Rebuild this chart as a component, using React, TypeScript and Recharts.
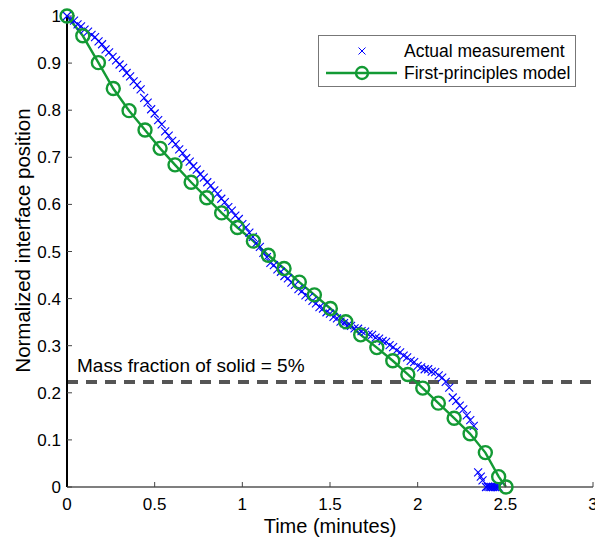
import React from 'react';
import {
  ComposedChart,
  XAxis,
  YAxis,
  Scatter,
  Line,
  ReferenceLine,
  Legend,
} from 'recharts';

const FONT = '"Liberation Sans", Arial, Helvetica, sans-serif';
const BLUE = '#0000ff';
const GREEN = '#139a34';

// measured interface position (minutes, normalized)
const measuredTime = [
  0, 0.02, 0.04, 0.06, 0.08, 0.1, 0.12, 0.14, 0.16, 0.18, 0.2, 0.22, 0.24, 0.26, 0.28, 0.3,
  0.32, 0.34, 0.36, 0.38, 0.4, 0.42, 0.44, 0.46, 0.48, 0.5, 0.52, 0.54, 0.56, 0.58, 0.6,
  0.62, 0.64, 0.66, 0.68, 0.7, 0.72, 0.74, 0.76, 0.78, 0.8, 0.82, 0.84, 0.86, 0.88, 0.9,
  0.92, 0.94, 0.96, 0.98, 1.0, 1.02, 1.04, 1.06, 1.08, 1.1, 1.12, 1.14, 1.16, 1.18, 1.2,
  1.22, 1.24, 1.26, 1.28, 1.3, 1.32, 1.34, 1.36, 1.38, 1.4, 1.42, 1.44, 1.46, 1.48, 1.5,
  1.52, 1.54, 1.56, 1.58, 1.6, 1.62, 1.64, 1.66, 1.68, 1.7, 1.72, 1.74, 1.76, 1.78, 1.8,
  1.82, 1.84, 1.86, 1.88, 1.9, 1.92, 1.94, 1.96, 1.98, 2.0, 2.02, 2.04, 2.06, 2.08, 2.1,
  2.12, 2.14, 2.16, 2.18, 2.2, 2.22, 2.24, 2.26, 2.28, 2.3, 2.32, 2.345, 2.36, 2.37, 2.39,
  2.4, 2.41, 2.42, 2.43, 2.44, 2.45, 2.46,
];
const measuredPosition = [
  1.0, 0.993, 0.99, 0.982, 0.978, 0.971, 0.967, 0.96, 0.955, 0.946, 0.94, 0.929, 0.923, 0.913, 0.906, 0.897,
  0.89, 0.879, 0.872, 0.861, 0.854, 0.844, 0.826, 0.816, 0.802, 0.793, 0.779, 0.77, 0.755, 0.746, 0.735,
  0.728, 0.717, 0.709, 0.698, 0.691, 0.681, 0.674, 0.664, 0.657, 0.647, 0.64, 0.63, 0.623, 0.612, 0.605,
  0.594, 0.587, 0.576, 0.569, 0.558, 0.551, 0.54, 0.531, 0.518, 0.51, 0.497, 0.488, 0.476, 0.471, 0.462,
  0.457, 0.448, 0.443, 0.434, 0.429, 0.42, 0.416, 0.407, 0.403, 0.395, 0.39, 0.382, 0.379, 0.371, 0.368,
  0.361, 0.358, 0.351, 0.348, 0.343, 0.342, 0.337, 0.336, 0.331, 0.33, 0.324, 0.323, 0.317, 0.315, 0.31,
  0.308, 0.301, 0.297, 0.29, 0.286, 0.279, 0.275, 0.268, 0.265, 0.257, 0.254, 0.25, 0.25, 0.245, 0.244,
  0.237, 0.232, 0.223, 0.211, 0.19, 0.183, 0.173, 0.165, 0.152, 0.142, 0.13, 0.031, 0.022, 0.014, 0.0,
  0.001, 0.0, 0.0, 0.0, 0.0, 0.0, 0.0,
];

// first-principles model output
const modelTime = [
  0, 0.09, 0.179, 0.264, 0.354, 0.445, 0.531, 0.616, 0.708, 0.797, 0.882, 0.972, 1.063, 1.148, 1.238,
  1.325, 1.411, 1.502, 1.59, 1.675, 1.767, 1.858, 1.944, 2.029, 2.118, 2.208, 2.299, 2.386, 2.462, 2.504,
];
const modelPosition = [
  1.0, 0.958, 0.901, 0.846, 0.799, 0.758, 0.719, 0.684, 0.647, 0.614, 0.582, 0.551, 0.522, 0.492, 0.464,
  0.435, 0.408, 0.379, 0.351, 0.323, 0.296, 0.268, 0.239, 0.21, 0.178, 0.146, 0.113, 0.073, 0.022, 0.0,
];

const xTicks = [0, 0.5, 1, 1.5, 2, 2.5, 3];
const yTicks = [0, 0.1, 0.2, 0.3, 0.4, 0.5, 0.6, 0.7, 0.8, 0.9, 1];
const solidFractionLevel = 0.223;
const solidFractionLabel = 'Mass fraction of solid = 5%';

const measured = measuredTime.map((t, i) => ({ t, v: measuredPosition[i] }));
const model = modelTime.map((t, i) => ({ t, v: modelPosition[i] }));

const tickStyle = { fill: '#000', fontSize: 17, fontFamily: FONT };

function CrossMark(props: any) {
  const { cx, cy } = props;
  const s = 4;
  return (
    <path
      d={`M${cx - s},${cy - s}L${cx + s},${cy + s}M${cx - s},${cy + s}L${cx + s},${cy - s}`}
      stroke={BLUE}
      strokeWidth={1.1}
      fill="none"
    />
  );
}

// rotated y-axis title, placed inside the axis band
function YTitle(props: any) {
  const { viewBox } = props;
  const x = viewBox.x + 22;
  const y = viewBox.y + viewBox.height / 2 - 11;
  return (
    <text
      x={x}
      y={y}
      transform={`rotate(-90, ${x}, ${y})`}
      textAnchor="middle"
      dominantBaseline="central"
      fontSize={20.5}
      fontFamily={FONT}
      fill="#000"
    >
      Normalized interface position
    </text>
  );
}

function LegendBox() {
  return (
    <svg width={258} height={52} style={{ display: 'block', fontFamily: FONT }}>
      <rect x={0.5} y={0.5} width={257} height={51} fill="#fff" stroke="#777" strokeWidth={1} />
      <path d="M40.5,12.5L47.5,19.5M40.5,19.5L47.5,12.5" stroke={BLUE} strokeWidth={1} />
      <text x={86} y={22} fontSize={17.5} fill="#000">Actual measurement</text>
      <line x1={8} x2={79} y1={38} y2={38} stroke={GREEN} strokeWidth={2.4} />
      <circle cx={44} cy={38} r={6} fill="none" stroke={GREEN} strokeWidth={2.4} />
      <text x={86} y={44} fontSize={17.5} fill="#000">First-principles model</text>
    </svg>
  );
}

export default function App() {
  return (
    <div style={{ position: 'absolute', left: 0, top: 0, width: 595, height: 540, background: '#fff' }}>
      <ComposedChart width={595} height={540} margin={{ top: 16, right: 2, left: 0, bottom: 0 }}>
        <XAxis
          xAxisId="bottom"
          type="number"
          dataKey="t"
          domain={[0, 3]}
          ticks={xTicks}
          interval={0}
          height={53}
          tickSize={-5}
          tickMargin={16}
          axisLine={{ stroke: '#555', strokeWidth: 1.5 }}
          tickLine={{ stroke: '#444' }}
          tick={tickStyle}
          label={{ value: 'Time (minutes)', position: 'insideBottom', offset: 7, fill: '#000', fontSize: 20, fontFamily: FONT }}
        />
        <XAxis
          xAxisId="top"
          orientation="top"
          type="number"
          dataKey="t"
          domain={[0, 3]}
          ticks={xTicks}
          height={0}
          tickSize={-5}
          axisLine={{ stroke: '#777', strokeWidth: 1.2 }}
          tickLine={{ stroke: '#444' }}
          tickFormatter={() => ''}
        />
        <YAxis
          yAxisId="left"
          type="number"
          domain={[0, 1]}
          ticks={yTicks}
          interval={0}
          width={67}
          tickSize={-5}
          tickMargin={11}
          axisLine={{ stroke: '#000', strokeWidth: 2 }}
          tickLine={{ stroke: '#444' }}
          tick={tickStyle}
          tickFormatter={(v: number) => String(Math.round(v * 10) / 10)}
          label={{ content: YTitle }}
        />
        <YAxis
          yAxisId="right"
          orientation="right"
          type="number"
          domain={[0, 1]}
          ticks={yTicks}
          width={0}
          tickSize={-5}
          axisLine={{ stroke: '#000', strokeWidth: 2 }}
          tickLine={{ stroke: '#444' }}
          tickFormatter={() => ''}
        />
        <ReferenceLine
          xAxisId="bottom"
          yAxisId="left"
          y={solidFractionLevel}
          stroke="#555"
          strokeWidth={4}
          strokeDasharray="11 8"
          label={{
            value: solidFractionLabel,
            position: 'insideBottomLeft',
            offset: 10,
            fill: '#000',
            fontSize: 19,
            fontFamily: FONT,
          }}
        />
        <Scatter
          xAxisId="bottom"
          yAxisId="left"
          name="Actual measurement"
          data={measured}
          dataKey="v"
          shape={CrossMark}
          isAnimationActive={false}
        />
        <Line
          xAxisId="bottom"
          yAxisId="left"
          name="First-principles model"
          data={model}
          dataKey="v"
          type="linear"
          stroke={GREEN}
          strokeWidth={2.4}
          dot={{ r: 6.5, fill: 'none', stroke: GREEN, strokeWidth: 2.4 }}
          isAnimationActive={false}
        />
        <Legend
          layout="horizontal"
          verticalAlign="middle"
          align="center"
          wrapperStyle={{ position: 'absolute', left: 318, top: 35, width: 258, height: 52 }}
          content={() => <LegendBox />}
        />
      </ComposedChart>
    </div>
  );
}
